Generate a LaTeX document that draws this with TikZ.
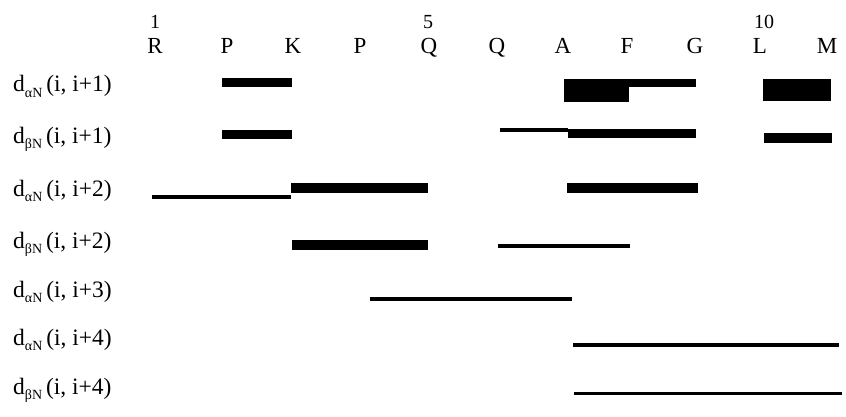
\documentclass[tikz,border=0pt]{standalone}
\usepackage{fontspec}
\setmainfont{Liberation Serif}
\begin{document}
\begin{tikzpicture}[x=1pt,y=-1pt,
  res/.style={anchor=base,inner sep=0pt,font=\fontsize{23}{23}\selectfont},
  num/.style={anchor=base west,inner sep=0pt,font=\fontsize{20}{20}\selectfont},
  lab/.style={anchor=base west,inner sep=0pt,font=\fontsize{23.5}{23.5}\selectfont},
  bar/.style={fill=black,draw=none}]
\useasboundingbox[fill=white] (0,0) rectangle (846,417);
% residues
\foreach \n/\t/\x in {r1/R/155,r2/P/227,r3/K/293,r4/P/360,r5/Q/429,r6/Q/497,r7/A/563,r8/F/627,r9/G/695,r10/L/760,r11/M/827}
  \node[res] (\n) at (\x,54) {\t};
\node[num] (n1) at (150,29) {1};
\node[num] (n5) at (423,29) {5};
\node[num] (n10) at (754,29) {10};
% labels
\newcommand{\dlab}[2]{d\raisebox{-0.22em}{\fontsize{14}{14}\selectfont #1}\,(i, i+#2)}
\node[lab] (l1) at (13,92) {\dlab{αN}{1}};
\node[lab] (l2) at (13,143) {\dlab{βN}{1}};
\node[lab] (l3) at (13,196) {\dlab{αN}{2}};
\node[lab] (l4) at (13,248) {\dlab{βN}{2}};
\node[lab] (l5) at (13,297) {\dlab{αN}{3}};
\node[lab] (l6) at (13,345) {\dlab{αN}{4}};
\node[lab] (l7) at (13,394) {\dlab{βN}{4}};
% row 1
\fill[bar] (222,78) rectangle (292,87);
\fill[bar] (564,79) rectangle (696,87);
\fill[bar] (564,79) rectangle (629,102);
\fill[bar] (763,79) rectangle (831,101);
% row 2
\fill[bar] (222,130) rectangle (292,139);
\fill[bar] (500,128.5) rectangle (568,132);
\fill[bar] (568,129) rectangle (696,138);
\fill[bar] (764,133) rectangle (832,143);
% row 3
\fill[bar] (152,195) rectangle (291,199);
\fill[bar] (291,183) rectangle (428,193);
\fill[bar] (567,183) rectangle (698,193);
% row 4
\fill[bar] (292,240) rectangle (428,250);
\fill[bar] (498,243.5) rectangle (630,247.5);
% row 5
\fill[bar] (370,297) rectangle (572,301);
% row 6
\fill[bar] (573,343) rectangle (839,347);
% row 7
\fill[bar] (574,391.5) rectangle (842,395);
\end{tikzpicture}
\end{document}
